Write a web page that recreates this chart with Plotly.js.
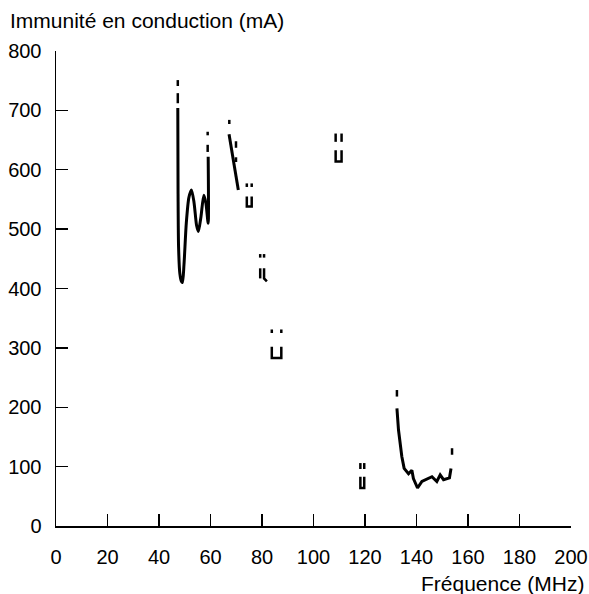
<!DOCTYPE html>
<html>
<head>
<meta charset="utf-8">
<script src="https://cdn.plot.ly/plotly-3.0.1.min.js"></script>
<style>html,body{margin:0;padding:0;background:#fff;}</style>
</head>
<body>
<div id="chart" style="width:589px;height:594px;"></div>
<script>
// Axis ticks
var xTicks = [0, 20, 40, 60, 80, 100, 120, 140, 160, 180, 200];
var yTicks = [0, 100, 200, 300, 400, 500, 600, 700, 800];

// Solid measured curves
var curve1X = [47.3, 47.4, 47.6, 48.1, 48.7, 49.1, 49.7, 50.6, 51.6, 52.6, 53.6, 54.6, 55.3, 56.3, 57.4, 58.2, 59.1, 59.1];
var curve1Y = [704, 560, 470, 425, 412, 410, 440, 510, 553, 566, 545, 506, 496, 521, 557, 544, 510, 622];

var curve2X = [67.2, 70.8];
var curve2Y = [660, 566];

var curve3X = [132.4, 133.0, 134.3, 135.2, 136.9, 138.2, 138.8, 140.4, 142.1, 144.0, 146.0, 147.9, 149.2, 150.5, 152.8, 153.4];
var curve3Y = [198, 162, 117, 97, 88, 94, 80, 64, 75, 79, 83, 75, 86, 78, 81, 97];

// Short broken marks (segments separated by null)
var markX = [
  47.3, 47.3, null, 47.3, 47.3, null,
  58.9, 58.9, null, 58.9, 58.9, null,
  67.3, 67.3, null, 69.9, 69.9, null, 69.9, 69.9, null,
  74.1, 74.1, null, 76.0, 76.0, null, 74.1, 74.1, 76.0, 76.0, null,
  79.3, 79.3, null, 80.8, 80.8, null, 79.3, 79.3, null, 80.8, 80.8, 81.9, null,
  83.8, 83.8, null, 87.5, 87.5, null, 83.8, 83.8, 87.5, 87.5, null,
  108.6, 108.6, null, 110.9, 110.9, null, 108.6, 108.6, 110.9, 110.9, null,
  118.2, 118.2, null, 119.7, 119.7, null, 118.2, 118.2, 119.7, 119.7, null,
  132.4, 132.4, null, 153.8, 153.8
];
var markY = [
  751, 741, null, 729, 712, null,
  664, 658, null, 642, 630, null,
  684, 677, null, 648, 637, null, 621, 613, null,
  577, 571, null, 577, 571, null, 555, 538, 538, 555, null,
  458, 452, null, 458, 452, null, 434, 417, null, 434, 417, 412, null,
  331, 325, null, 331, 325, null, 302, 283, 283, 302, null,
  661, 647, null, 661, 647, null, 633, 614, 614, 633, null,
  106, 96, null, 106, 96, null, 83, 64, 64, 83, null,
  229, 218, null, 131, 120
];

var lineStyle = {color: '#000', width: 3};
var traces = [
  {x: curve1X, y: curve1Y, mode: 'lines', line: {color: '#000', width: 3, shape: 'spline', smoothing: 0.7}, hoverinfo: 'skip'},
  {x: curve2X, y: curve2Y, mode: 'lines', line: lineStyle, hoverinfo: 'skip'},
  {x: curve3X, y: curve3Y, mode: 'lines', line: lineStyle, hoverinfo: 'skip'},
  {x: markX, y: markY, mode: 'lines', line: {color: '#000', width: 2.5}, connectgaps: false, hoverinfo: 'skip'}
];

var axisCommon = {
  ticks: 'inside', ticklen: 12, tickwidth: 1.3, tickcolor: '#000',
  showline: true, linecolor: '#000', linewidth: 1.5,
  showgrid: false, zeroline: false, fixedrange: true
};

var layout = {
  width: 589, height: 594,
  margin: {l: 56, r: 18, t: 51, b: 68, pad: 0},
  paper_bgcolor: '#fff', plot_bgcolor: '#fff',
  showlegend: false,
  font: {family: 'Liberation Sans, Arial, Helvetica, sans-serif', size: 20, color: '#000'},
  xaxis: Object.assign({}, axisCommon, {range: [0, 200], tickvals: xTicks, ticktext: xTicks.map(String), ticklabelstandoff: 12}),
  yaxis: Object.assign({}, axisCommon, {range: [0, 800], tickvals: yTicks, ticktext: yTicks.map(String), ticklabelstandoff: 9}),
  annotations: [
    {text: 'Immunité en conduction (mA)', xref: 'paper', yref: 'paper', x: -0.0933, y: 1.065,
     xanchor: 'left', yanchor: 'middle', showarrow: false, font: {size: 21, color: '#000'}},
    {text: 'Fréquence (MHz)', xref: 'paper', yref: 'paper', x: 1.0297, y: -0.12,
     xanchor: 'right', yanchor: 'middle', showarrow: false, font: {size: 21, color: '#000'}}
  ]
};

Plotly.newPlot('chart', traces, layout, {staticPlot: true, displayModeBar: false});
</script>
</body>
</html>
